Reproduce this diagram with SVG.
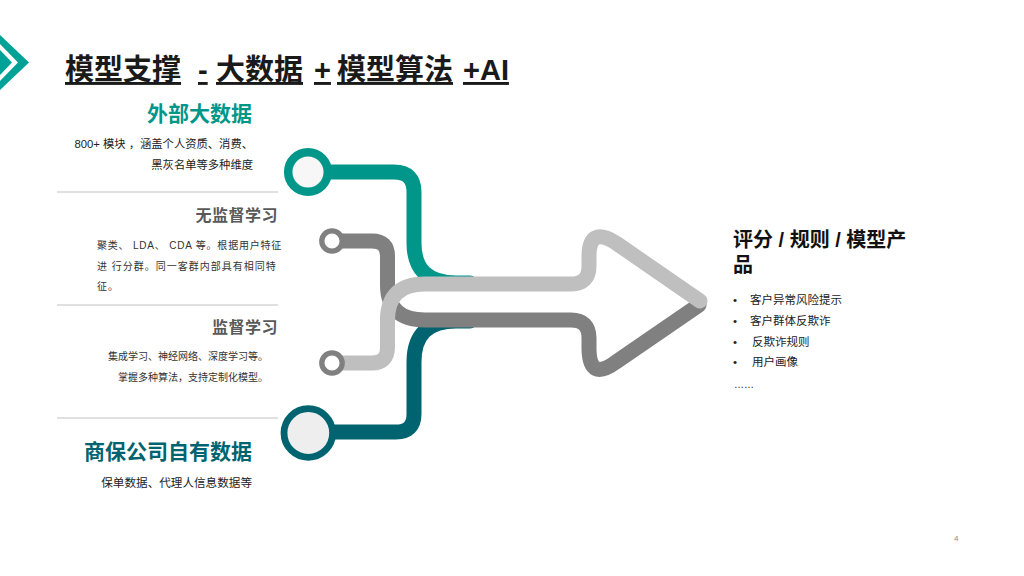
<svg xmlns="http://www.w3.org/2000/svg" width="1024" height="576" viewBox="0 0 1024 576">
  <style>
    text { font-family: "Liberation Sans", "Noto Sans CJK SC", sans-serif; }
    .title { font-size: 29px; font-weight: bold; fill: #1a1a1a; text-decoration: underline; }
    .h-teal { font-size: 21px; font-weight: bold; fill: #00968A; }
    .h-dark { font-size: 21px; font-weight: bold; fill: #006470; }
    .h-gray { font-size: 16px; font-weight: bold; fill: #595959; letter-spacing: 0.5px; }
    .body { font-size: 11.3px; fill: #222; }
    .small { font-size: 10px; fill: #333; }
    .out-h { font-size: 20px; font-weight: bold; fill: #111; }
    .out { font-size: 11.5px; fill: #222; }
    .sep { stroke: #e0e0e0; stroke-width: 2; }
    .ln { fill: none; stroke-width: 15; stroke-linecap: round; stroke-linejoin: round; }
  </style>

  <!-- corner chevron -->
  <g id="corner-mark">
    <polygon points="0,35 29,62.5 0,90 0,81 18,62.5 0,44" fill="#00A196"/>
    <polygon points="0,50 12,62.5 0,75" fill="#00A196"/>
  </g>

  <!-- title -->
  <g id="title">
    <text class="title" x="65" y="80">模型支撑 </text>
    <text class="title" x="198" y="80">-</text>
    <text class="title" x="216" y="80">大数据</text>
    <text class="title" x="314" y="80">+</text>
    <text class="title" x="337" y="80">模型算法</text>
    <text class="title" x="463" y="80">+AI</text>
  </g>

  <!-- separators -->
  <g id="separators">
    <line class="sep" x1="57" y1="192" x2="278" y2="192"/>
    <line class="sep" x1="57" y1="305" x2="278" y2="305"/>
    <line class="sep" x1="57" y1="418" x2="278" y2="418"/>
  </g>

  <g id="node-external">
    <text class="h-teal" x="252" y="121" text-anchor="end">外部大数据</text>
    <text class="body" x="253" y="148" text-anchor="end">800+ 模块 ，涵盖个人资质、消费、</text>
    <text class="body" x="253" y="169" text-anchor="end">黑灰名单等多种维度</text>
  </g>

  <g id="node-unsupervised">
    <text class="h-gray" x="278" y="221" text-anchor="end">无监督学习</text>
    <text class="small" x="97" y="249" letter-spacing="0.8">聚类、 LDA、 CDA 等。根据用户特征</text>
    <text class="small" x="97" y="270" letter-spacing="1">进 行分群。同一客群内部具有相同特</text>
    <text class="small" x="97" y="290" letter-spacing="1">征。</text>
  </g>

  <g id="node-supervised">
    <text class="h-gray" x="278" y="333" text-anchor="end">监督学习</text>
    <text class="small" x="268" y="360" text-anchor="end">集成学习、神经网络、深度学习等。</text>
    <text class="small" x="268" y="381" text-anchor="end">掌握多种算法，支持定制化模型。</text>
  </g>

  <g id="node-own-data">
    <text class="h-dark" x="252" y="459" text-anchor="end">商保公司自有数据</text>
    <text class="body" x="252" y="487" text-anchor="end" style="font-size:11.6px">保单数据、代理人信息数据等</text>
  </g>

  <!-- connectors -->
  <g id="connectors">
    <path class="ln" stroke="#00968A" d="M 308 172 H 394 Q 414 172 414 192 V 243 Q 414 283 456 283 H 470"/>
    <path class="ln" stroke="#006470" d="M 308 432 H 396 Q 414 432 414 414 V 362 Q 414 321 456 321 H 470"/>
    <path class="ln" stroke="#808080" d="M 332 241 H 372 Q 387.5 241 387.5 256 V 285 Q 387.5 320 425 320 H 571 Q 589 320 589 338 V 348 Q 589 382 616 362 L 699 305"/>
    <path class="ln" stroke="#BFBFBF" d="M 332 363 H 372 Q 387.5 363 387.5 347 V 320 Q 387.5 284 425 284 H 571 Q 589 284 589 266 V 256 Q 589 226 616 243 L 700 301"/>
  </g>

  <g id="node-circles">
    <circle cx="308" cy="172" r="19.8" fill="#f7f7f7" stroke="#00968A" stroke-width="8.5"/>
    <circle cx="332" cy="241" r="10.2" fill="#ffffff" stroke="#808080" stroke-width="5.3"/>
    <circle cx="332" cy="363" r="10.2" fill="#ffffff" stroke="#808080" stroke-width="5.3"/>
    <circle cx="308.3" cy="433" r="24.3" fill="#eeeeee" stroke="#006470" stroke-width="6.8"/>
  </g>

  <g id="node-output">
    <text class="out-h" x="733" y="247">评分 / 规则 / 模型产</text>
    <text class="out-h" x="733" y="272">品</text>
    <text class="out" x="733" y="304">•</text>
    <text class="out" x="750" y="304">客户异常风险提示</text>
    <text class="out" x="733" y="325">•</text>
    <text class="out" x="750" y="325">客户群体反欺诈</text>
    <text class="out" x="733" y="345.5">•</text>
    <text class="out" x="752" y="345.5">反欺诈规则</text>
    <text class="out" x="733" y="366">•</text>
    <text class="out" x="752" y="366">用户画像</text>
    <text class="out" x="734" y="388" style="font-size:10px">……</text>
  </g>

  <text x="954" y="541" style="font-size:8px; fill:#888">4</text>
</svg>
